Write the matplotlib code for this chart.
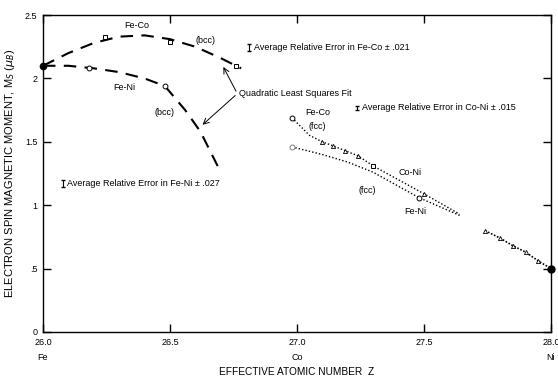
import matplotlib
matplotlib.use("Agg")
import matplotlib.pyplot as plt
from matplotlib.transforms import blended_transform_factory

plt.rcParams['font.family'] = ['Liberation Sans', 'DejaVu Sans']

# ---- data ----
# bcc Fe-Co measured points and quadratic fit curve
feco_bcc_x = [26.0, 26.245, 26.50, 26.76]
feco_bcc_y = [2.10, 2.33, 2.29, 2.10]
feco_fit_x = [26.0, 26.1, 26.2, 26.3, 26.4, 26.5, 26.6, 26.7, 26.78]
feco_fit_y = [2.10, 2.20, 2.28, 2.33, 2.34, 2.31, 2.25, 2.16, 2.08]

# bcc Fe-Ni measured points and quadratic fit curve
feni_bcc_x = [26.0, 26.18, 26.48]
feni_bcc_y = [2.10, 2.08, 1.94]
feni_fit_x = [26.0, 26.1, 26.2, 26.3, 26.4, 26.48, 26.56, 26.62, 26.69]
feni_fit_y = [2.10, 2.10, 2.08, 2.05, 2.00, 1.94, 1.75, 1.58, 1.30]

# fcc Fe-Co / Co-Ni (upper dotted line)
coni_x = [26.98, 27.05, 27.10, 27.14, 27.19, 27.24, 27.30, 27.50, 27.64]
coni_y = [1.69, 1.55, 1.50, 1.47, 1.43, 1.39, 1.31, 1.09, 0.93]
coni_mk_x = [27.10, 27.14, 27.19, 27.24, 27.50]
coni_mk_y = [1.50, 1.47, 1.43, 1.39, 1.09]

# fcc Fe-Ni (lower dotted line)
feni_fcc_x = [26.98, 27.10, 27.20, 27.30, 27.48, 27.64]
feni_fcc_y = [1.46, 1.40, 1.34, 1.26, 1.06, 0.92]

# merged tail to Ni
tail_x = [27.74, 27.80, 27.85, 27.90, 27.95, 28.0]
tail_y = [0.80, 0.74, 0.68, 0.63, 0.56, 0.50]

xticks = [26.0, 26.5, 27.0, 27.5, 28.0]
xticklabels = ["26.0", "26.5", "27.0", "27.5", "28.0"]
yticks = [0, 0.5, 1.0, 1.5, 2.0, 2.5]
yticklabels = ["0", ".5", "1", "1.5", "2", "2.5"]
elements = [(26.0, "Fe"), (27.0, "Co"), (28.0, "Ni")]

fig = plt.figure(figsize=(5.58, 3.77), dpi=100)
ax = fig.add_axes([0.077, 0.1194, 0.9105, 0.8406])
fs = 6.5

# bcc fits
ax.plot(feco_fit_x, feco_fit_y, color='black', lw=1.5, dashes=(6, 4))
ax.plot(feni_fit_x, feni_fit_y, color='black', lw=1.5, dashes=(6, 4))
ax.plot(feco_bcc_x[1:], feco_bcc_y[1:], ls='none', marker='s', ms=3.5, mfc='white', mec='black', mew=0.7)
ax.plot(feni_bcc_x[1:], feni_bcc_y[1:], ls='none', marker='o', ms=3.5, mfc='white', mec='black', mew=0.7)
ax.plot([feco_bcc_x[0]], [feco_bcc_y[0]], marker='o', ms=4.5, color='black', clip_on=False)

# fcc lines
ax.plot(coni_x, coni_y, color='black', lw=1.0, ls=(0, (1, 1.5)))
ax.plot(feni_fcc_x, feni_fcc_y, color='black', lw=1.0, ls=(0, (1, 1.5)))
ax.plot(tail_x, tail_y, color='black', lw=1.2, ls=(0, (1, 1)))
ax.plot(coni_mk_x, coni_mk_y, ls='none', marker='^', ms=3, mfc='white', mec='black', mew=0.6)
ax.plot(tail_x[:-1], tail_y[:-1], ls='none', marker='^', ms=3, mfc='white', mec='black', mew=0.6)
ax.plot([coni_x[0]], [coni_y[0]], marker='o', ms=3.5, mfc='white', mec='black', mew=0.7)
ax.plot([coni_x[6]], [coni_y[6]], marker='s', ms=3, mfc='white', mec='black', mew=0.7)
ax.plot([feni_fcc_x[0]], [feni_fcc_y[0]], marker='o', ms=3.5, mfc='white', mec='gray', mew=0.7)
ax.plot([feni_fcc_x[4]], [feni_fcc_y[4]], marker='o', ms=3.5, mfc='white', mec='black', mew=0.7)
ax.plot([tail_x[-1]], [tail_y[-1]], marker='o', ms=5, color='black', clip_on=False, zorder=5)

# labels
lab = dict(fontsize=fs, ha='center', va='center')
ax.text(26.37, 2.42, "Fe-Co", **lab)
ax.text(26.64, 2.30, "(bcc)", **lab)
ax.text(26.32, 1.93, "Fe-Ni", **lab)
ax.text(26.48, 1.735, "(bcc)", **lab)
ax.text(27.08, 1.73, "Fe-Co", **lab)
ax.text(27.08, 1.62, "(fcc)", **lab)
ax.text(27.445, 1.26, "Co-Ni", **lab)
ax.text(27.275, 1.12, "(fcc)", **lab)
ax.text(27.465, 0.95, "Fe-Ni", **lab)

# Quadratic fit annotation
ax.annotate("", xy=(26.705, 2.11), xytext=(26.765, 1.88),
            arrowprops=dict(arrowstyle='->', lw=0.7, color='black'))
ax.annotate("", xy=(26.62, 1.62), xytext=(26.765, 1.88),
            arrowprops=dict(arrowstyle='->', lw=0.7, color='black'))
ax.text(26.77, 1.88, "Quadratic Least Squares Fit", fontsize=fs, va='center')

# error notes
ax.errorbar([26.81], [2.245], yerr=0.025, color='black', capsize=1.5, lw=0.8)
ax.text(26.83, 2.245, "Average Relative Error in Fe-Co \u00b1 .021", fontsize=fs, va='center')
ax.errorbar([27.235], [1.77], yerr=0.015, color='black', capsize=1.5, lw=0.8)
ax.text(27.255, 1.77, "Average Relative Error in Co-Ni \u00b1 .015", fontsize=fs, va='center')
ax.errorbar([26.08], [1.17], yerr=0.03, color='black', capsize=1.5, lw=0.8)
ax.text(26.095, 1.17, "Average Relative Error in Fe-Ni \u00b1 .027", fontsize=fs, va='center')

ax.set_xlim(26.0, 28.0)
ax.set_ylim(0, 2.5)
ax.set_xticks(xticks)
ax.set_xticklabels(xticklabels, fontsize=fs)
ax.set_yticks(yticks)
ax.set_yticklabels(yticklabels, fontsize=fs)
ax.tick_params(direction='in', top=True, right=True, length=6, width=1, pad=4)
for s in ax.spines.values():
    s.set_linewidth(1.0)

trans = blended_transform_factory(ax.transData, ax.transAxes)
for xv, name in elements:
    ax.text(xv, -0.082, name, transform=trans, fontsize=fs, ha='center', va='center')

ax.set_xlabel("EFFECTIVE ATOMIC NUMBER  Z", fontsize=7.3, labelpad=15)
ax.set_ylabel("ELECTRON SPIN MAGNETIC MOMENT, M$_S$ ($\\mu_B$)", fontsize=8, labelpad=6)

fig.savefig("out.png", dpi=100)
